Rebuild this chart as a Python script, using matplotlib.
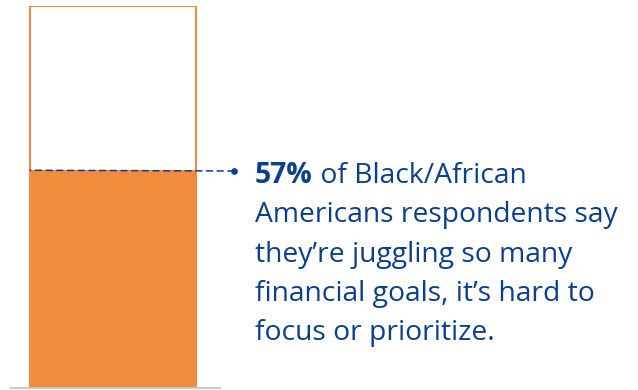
import matplotlib
matplotlib.use("Agg")
import matplotlib.pyplot as plt

categories = ["Black/African Americans"]
values = [57]
total = [100]
highlight = "57%"
lines = [" of Black/African", "Americans respondents say", "they\u2019re juggling so many",
         "financial goals, it\u2019s hard to", "focus or prioritize."]

W, H = 638, 390
fig = plt.figure(figsize=(W/100, H/100), dpi=100)
orange = "#F38B3F"
blue = "#0B3F8C"

ax = fig.add_axes([11/W, 2/H, 209/W, 382/H])
ax.bar([0], total, width=1, color="white", edgecolor=orange, linewidth=1.5, zorder=1)
ax.bar([0], values, width=1, color=orange, edgecolor="none", zorder=2)
ax.set_xlim(-0.5 - 19/166, 0.5 + 24/166)
ax.set_ylim(0, 100)
for s in ["top", "right", "left"]:
    ax.spines[s].set_visible(False)
ax.spines["bottom"].set_color("#c8c8c8")
ax.spines["bottom"].set_linewidth(1.5)
ax.set_xticks([]); ax.set_yticks([])

# dashed leader line
x0 = -0.5
ax.annotate("", xy=(x0, values[0]), xycoords="data",
            xytext=(234, H - 171), textcoords="figure pixels",
            arrowprops=dict(arrowstyle="-", linestyle=(0, (4, 3)), color=blue, lw=1.1,
                            shrinkA=0, shrinkB=0), annotation_clip=False)
fig.add_artist(plt.Line2D([234/W], [(H-171)/H], marker="o", markersize=3.8, color=blue,
                          transform=fig.transFigure))

fam = ["Open Sans", "DejaVu Sans"]
fs = 20.3
y0 = H - 183
x_left = 255
t = fig.text(x_left/W, y0/H, highlight, fontsize=fs, fontweight="bold", color=blue,
             family=fam, va="baseline")
fig.canvas.draw()
bb = t.get_window_extent()
fig.text(bb.x1/W, y0/H, lines[0], fontsize=fs, color=blue, family=fam, va="baseline")
lh = 39.3
for i, ln in enumerate(lines[1:], start=1):
    fig.text(x_left/W, (y0 - i*lh)/H, ln, fontsize=fs, color=blue, family=fam, va="baseline")

fig.savefig("out.png", dpi=100)
